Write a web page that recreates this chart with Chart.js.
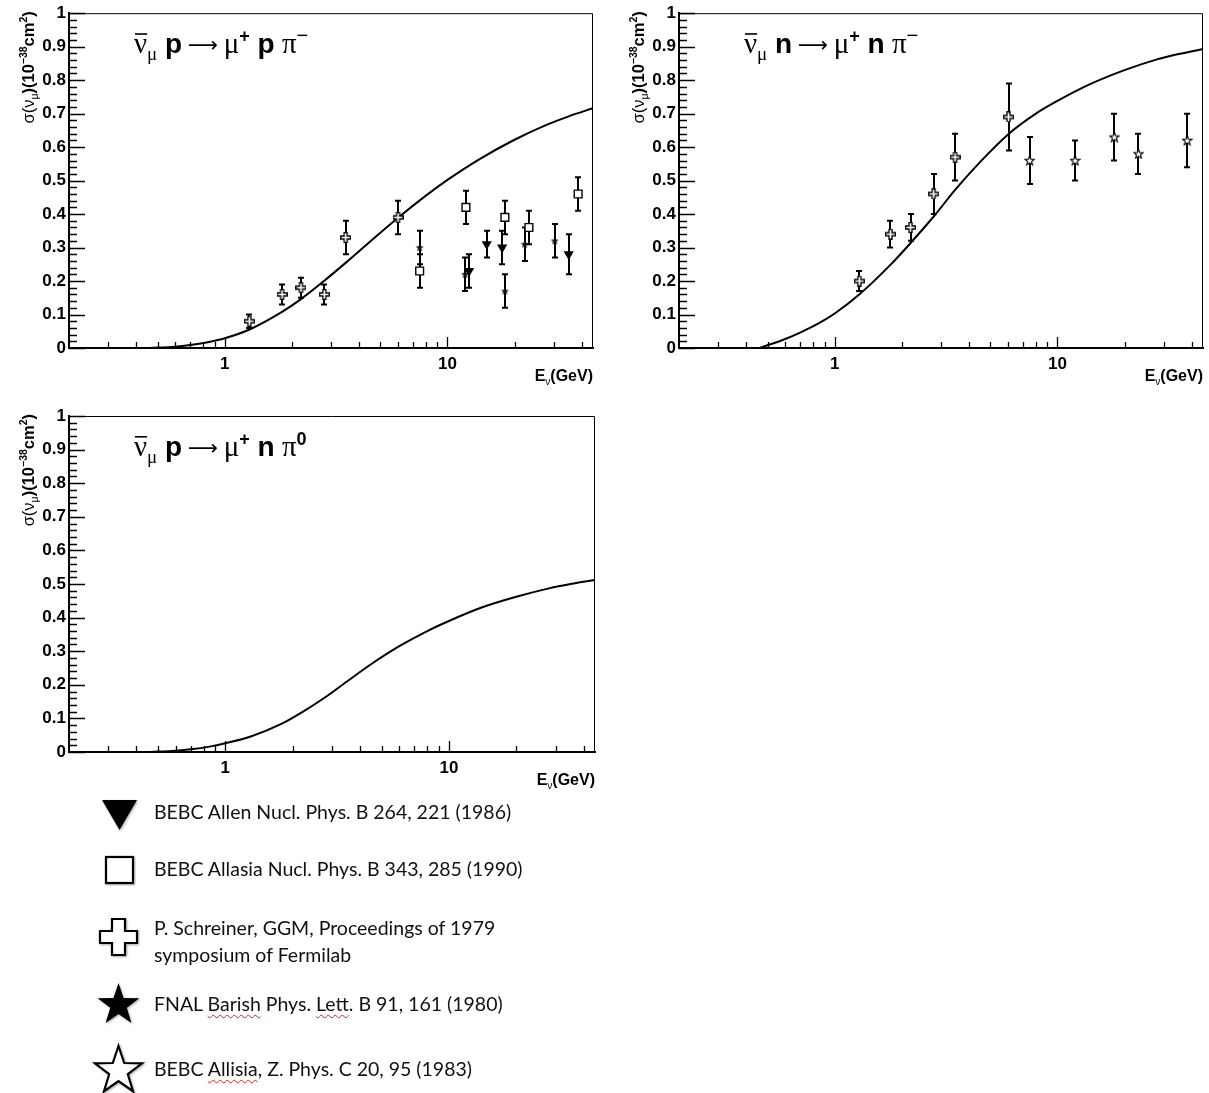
<!DOCTYPE html>
<html>
<head>
<meta charset="utf-8">
<script src="https://cdn.jsdelivr.net/npm/chart.js@4.4.1/dist/chart.umd.min.js"></script>
<style>
body{margin:0;background:#fff;width:1209px;height:1093px;position:relative;overflow:hidden;}
.panel{position:absolute;}
.leg{position:absolute;left:154px;font-family:Lato,"Open Sans",sans-serif;font-size:19.5px;color:#111;line-height:27px;white-space:nowrap;}
.leg u{text-decoration:underline wavy #d22;text-decoration-thickness:1px;text-underline-offset:3px;}
.sym{position:absolute;overflow:visible;}
</style>
</head>
<body>
<div class="panel" style="left:0;top:0;"><canvas id="chartPPi" width="605" height="392"></canvas></div>
<div class="panel" style="left:610px;top:0;"><canvas id="chartNPi" width="599" height="392"></canvas></div>
<div class="panel" style="left:0;top:400px;"><canvas id="chartNPi0" width="605" height="392"></canvas></div>

<svg class="sym" style="left:0;top:0" width="200" height="1093">
  <defs><filter id="sh"><feDropShadow dx="1" dy="1" stdDeviation="1" flood-opacity="0.35"/></filter></defs>
  <polygon points="102,800 137,800 119.5,830" fill="#000" filter="url(#sh)"/>
  <rect x="106" y="857" width="27" height="26" fill="#fff" stroke="#000" stroke-width="2.2" filter="url(#sh)"/>
  <polygon points="112,919 125,919 125,931 137,931 137,943 125,943 125,955 112,955 112,943 100,943 100,931 112,931" fill="#fff" stroke="#000" stroke-width="2.2" filter="url(#sh)"/>
  <polygon points="118.5,983 123.6,997.9 139.4,998.2 126.8,1007.8 131.4,1022.9 118.5,1013.9 105.6,1022.9 110.2,1007.8 97.6,998.2 113.4,997.9" fill="#000" filter="url(#sh)"/>
  <polygon points="118.5,1046 124.2,1063 142,1063.3 127.8,1074.2 133,1091.2 118.5,1081 104,1091.2 109.2,1074.2 95,1063.3 112.8,1063" fill="#fff" stroke="#000" stroke-width="2.2" filter="url(#sh)"/>
</svg>
<div class="leg" style="top:798px">BEBC Allen Nucl. Phys. B 264, 221 (1986)</div>
<div class="leg" style="top:855px">BEBC Allasia Nucl. Phys. B 343, 285 (1990)</div>
<div class="leg" style="top:914px">P. Schreiner, GGM, Proceedings of 1979<br>symposium of Fermilab</div>
<div class="leg" style="top:990px">FNAL <u>Barish</u> Phys. <u>Lett</u>. B 91, 161 (1980)</div>
<div class="leg" style="top:1055px">BEBC <u>Allisia</u>, Z. Phys. C 20, 95 (1983)</div>

<script>
// axis ticks
var xTickVals = [0.3,0.4,0.5,0.6,0.7,0.8,0.9,1,2,3,4,5,6,7,8,9,10,20,30,40];
var xTickLabels = {1:'1', 10:'10'};
var yTickVals = [0,0.1,0.2,0.3,0.4,0.5,0.6,0.7,0.8,0.9,1];
var yTickLabels = ['0','0.1','0.2','0.3','0.4','0.5','0.6','0.7','0.8','0.9','1'];

// theory curves (E in GeV, sigma in 1e-38 cm2)
var curveE      = [0.46, 0.6,   0.7,   0.85,  1,     1.3,   1.8,   2.2,   2.8,   3.5,   4.5,   6,     8,     10,    14,    20,    28,    35,    45];
var curvePPiM   = [0,    0.004, 0.009, 0.018, 0.029, 0.056, 0.107, 0.146, 0.201, 0.255, 0.318, 0.389, 0.455, 0.502, 0.565, 0.622, 0.667, 0.692, 0.716];
var curveNPiM   = [0,    0.027, 0.046, 0.074, 0.103, 0.162, 0.252, 0.315, 0.395, 0.475, 0.556, 0.638, 0.700, 0.738, 0.788, 0.830, 0.862, 0.878, 0.893];
var curveNPi0   = [0,    0.004, 0.008, 0.016, 0.026, 0.046, 0.085, 0.118, 0.163, 0.210, 0.262, 0.315, 0.360, 0.390, 0.430, 0.462, 0.487, 0.500, 0.512];

// p pi- data
var allenE   = [12.5, 15.0, 17.6, 35.0];
var allenSig = [0.23, 0.31, 0.30, 0.28];
var allenErr = [0.05, 0.04, 0.05, 0.06];

var allasiaE   = [7.5, 12.1, 18.1, 23.2, 38.6];
var allasiaSig = [0.23, 0.42, 0.39, 0.36, 0.46];
var allasiaErr = [0.05, 0.05, 0.05, 0.05, 0.05];

var schreinerPE   = [1.29, 1.81, 2.2, 2.8, 3.49, 6.0];
var schreinerPSig = [0.08, 0.16, 0.18, 0.16, 0.33, 0.39];
var schreinerPErr = [0.02, 0.03, 0.03, 0.03, 0.05, 0.05];

var barishE   = [7.5, 12.0, 18.1, 22.2, 30.3];
var barishSig = [0.30, 0.22, 0.17, 0.31, 0.32];
var barishErr = [0.05, 0.05, 0.05, 0.05, 0.05];

// n pi- data
var schreinerNE   = [1.29, 1.78, 2.19, 2.78, 3.47, 6.03];
var schreinerNSig = [0.20, 0.34, 0.36, 0.46, 0.57, 0.69];
var schreinerNErr = [0.03, 0.04, 0.04, 0.06, 0.07, 0.10];

var allisiaE   = [7.5, 12.0, 18.0, 23.1, 38.2];
var allisiaSig = [0.56, 0.56, 0.63, 0.58, 0.62];
var allisiaErr = [0.07, 0.06, 0.07, 0.06, 0.08];

var SERIF = '"Liberation Serif"';
var SANS = '"Liberation Sans"';

function titleSegs(nucl1, nucl2, charge){
	return [
		{t:'ν', f:'29px '+SERIF, bar:20},
		{t:'μ', f:'19px '+SERIF, dy:7},
		{t:' '+nucl1+'\u2009', f:'bold 28px '+SANS},
		{t:'⟶', f:'21px "DejaVu Sans"', dy:-1},
		{t:'\u2009μ', f:'29px '+SERIF},
		{t:'+', f:'bold 18px '+SANS, dy:-11},
		{t:' '+nucl2, f:'bold 28px '+SANS},
		{t:' π', f:'29px '+SERIF},
		{t:charge, f:(charge=='0'?'bold 18px ':'20px ')+SANS, dy:-11}
	];
}

var yTitleSegs = [
	{t:'σ(ν', f:'16.5px '+SANS},
	{t:'μ', f:'10.5px '+SANS, dy:4},
	{t:')(10', f:'bold 16.5px '+SANS},
	{t:'−38', f:'bold 10.5px '+SANS, dy:-7},
	{t:'cm', f:'bold 16.5px '+SANS},
	{t:'2', f:'bold 10.5px '+SANS, dy:-7},
	{t:')', f:'bold 16.5px '+SANS}
];
var xTitleSegs = [
	{t:'E', f:'bold 16px '+SANS},
	{t:'ν', f:'10px '+SANS, dy:4},
	{t:'(GeV)', f:'bold 16px '+SANS}
];

function measureRich(ctx, segs){
	var w = 0;
	segs.forEach(function(s){ ctx.font = s.f; w += ctx.measureText(s.t).width; });
	return w;
}

function drawRich(ctx, segs, x, y){
	var cx = x;
	segs.forEach(function(s){
		ctx.font = s.f;
		var w = ctx.measureText(s.t).width;
		ctx.fillText(s.t, cx, y + (s.dy || 0));
		if(s.bar){ ctx.fillRect(cx + 1, y - s.bar, w - 1, 1.6); }
		cx += w;
	});
}

function markerCanvas(size, draw){
	var c = document.createElement('canvas');
	c.width = size; c.height = size;
	draw(c.getContext('2d'), size);
	return c;
}

function starPath(g, cx, cy, ro, ri){
	g.beginPath();
	for(var i = 0; i < 10; i++){
		var r = (i % 2) ? ri : ro;
		var a = -Math.PI/2 + i*Math.PI/5;
		g.lineTo(cx + r*Math.cos(a), cy + r*Math.sin(a));
	}
	g.closePath();
}

var openCross = markerCanvas(11, function(g){
	g.beginPath();
	var p = [[4,0.7],[7,0.7],[7,4],[10.3,4],[10.3,7],[7,7],[7,10.3],[4,10.3],[4,7],[0.7,7],[0.7,4],[4,4]];
	p.forEach(function(q){ g.lineTo(q[0], q[1]); });
	g.closePath();
	g.fillStyle = '#fff'; g.fill();
	g.lineWidth = 1.3; g.strokeStyle = '#000'; g.stroke();
});
var filledStar = markerCanvas(9, function(g){
	starPath(g, 4.5, 4.8, 4.3, 1.8);
	g.fillStyle = '#111'; g.fill();
});
var openStar = markerCanvas(11, function(g){
	starPath(g, 5.5, 5.8, 5, 2.1);
	g.fillStyle = '#fff'; g.fill();
	g.lineWidth = 1.1; g.strokeStyle = '#000'; g.stroke();
});

function points(xs, ys){
	return xs.map(function(x, i){ return {x: x, y: ys[i]}; });
}

function pointSet(xs, ys, errs, style, extra){
	var ds = {
		data: points(xs, ys),
		errs: errs,
		showLine: false,
		pointStyle: style,
		pointRadius: 4.5,
		pointBorderColor: '#000',
		pointBackgroundColor: '#fff',
		pointBorderWidth: 1.4
	};
	for(var k in extra){ ds[k] = extra[k]; }
	return ds;
}

function curveSet(ys){
	return {
		data: points(curveE, ys),
		showLine: true,
		pointRadius: 0,
		borderColor: '#000',
		borderWidth: 2,
		cubicInterpolationMode: 'monotone',
		order: 10
	};
}

var rootStyle = {
	id: 'rootStyle',
	beforeDatasetsDraw: function(chart){
		var ctx = chart.ctx, xs = chart.scales.x, ys = chart.scales.y;
		ctx.save();
		ctx.strokeStyle = '#000';
		ctx.lineWidth = 2;
		chart.data.datasets.forEach(function(ds){
			if(!ds.errs){ return; }
			ds.data.forEach(function(p, i){
				var px = Math.round(xs.getPixelForValue(p.x));
				var top = ys.getPixelForValue(p.y + ds.errs[i]);
				var bot = ys.getPixelForValue(p.y - ds.errs[i]);
				ctx.beginPath();
				ctx.moveTo(px, top); ctx.lineTo(px, bot);
				ctx.moveTo(px - 3, top); ctx.lineTo(px + 3, top);
				ctx.moveTo(px - 3, bot); ctx.lineTo(px + 3, bot);
				ctx.stroke();
			});
		});
		ctx.restore();
	},
	afterDraw: function(chart){
		var ctx = chart.ctx, a = chart.chartArea, xs = chart.scales.x, ys = chart.scales.y;
		ctx.save();
		// frame top/right
		ctx.strokeStyle = '#000';
		ctx.lineWidth = 1;
		ctx.beginPath();
		ctx.moveTo(a.left, a.top + 0.5); ctx.lineTo(a.right - 0.5, a.top + 0.5); ctx.lineTo(a.right - 0.5, a.bottom);
		ctx.stroke();
		// inner ticks
		ctx.lineWidth = 1.3;
		ctx.beginPath();
		for(var i = 0; i <= 50; i++){
			var py = Math.round(ys.getPixelForValue(i/50)) + 0.5;
			var len = (i % 5 == 0) ? 16 : 8;
			ctx.moveTo(a.left, py); ctx.lineTo(a.left + len, py);
		}
		xTickVals.forEach(function(v){
			var px = Math.round(xs.getPixelForValue(v)) + 0.5;
			var len = xTickLabels[v] ? 11 : 6;
			ctx.moveTo(px, a.bottom); ctx.lineTo(px, a.bottom - len);
		});
		ctx.stroke();
		// titles
		ctx.fillStyle = '#000';
		ctx.textBaseline = 'alphabetic';
		drawRich(ctx, chart.options.titleSegs, a.left + 65, a.top + 40);
		var xw = measureRich(ctx, xTitleSegs);
		drawRich(ctx, xTitleSegs, a.right - xw, a.bottom + 33);
		var yw = measureRich(ctx, yTitleSegs);
		ctx.translate(a.left - 35, a.top - 2);
		ctx.rotate(-Math.PI/2);
		drawRich(ctx, yTitleSegs, -yw, 0);
		ctx.restore();
	}
};

function makePanel(id, datasets, segs, padTop, padRight, plotBottom){
	var canvas = document.getElementById(id);
	return new Chart(canvas, {
		type: 'scatter',
		data: {datasets: datasets},
		plugins: [rootStyle],
		options: {
			responsive: false,
			animation: false,
			titleSegs: segs,
			layout: {padding: {top: padTop, right: padRight, left: 0, bottom: 0}},
			plugins: {legend: {display: false}, tooltip: {enabled: false}},
			scales: {
				x: {
					type: 'logarithmic',
					min: 0.2, max: 45,
					afterBuildTicks: function(axis){
						axis.ticks = xTickVals.map(function(v){ return {value: v}; });
					},
					afterFit: function(axis){ axis.height = canvas.height - plotBottom; },
					ticks: {
						autoSkip: false, maxRotation: 0, padding: 6, color: '#000',
						font: {family: SANS, weight: 'bold', size: 17},
						callback: function(v){ return xTickLabels[v] || ''; }
					},
					grid: {display: false, drawTicks: false},
					border: {display: true, color: '#000', width: 2}
				},
				y: {
					min: 0, max: 1,
					afterBuildTicks: function(axis){
						axis.ticks = yTickVals.map(function(v){ return {value: v}; });
					},
					afterFit: function(axis){ axis.width = 69; },
					ticks: {
						padding: 3, color: '#000',
						font: {family: SANS, weight: 'bold', size: 17},
						callback: function(v, i){ return yTickLabels[i]; }
					},
					grid: {display: false, drawTicks: false},
					border: {display: true, color: '#000', width: 2}
				}
			}
		}
	});
}

makePanel('chartPPi', [
	pointSet(allenE, allenSig, allenErr, 'triangle', {rotation: 180, pointRadius: 4.5, pointBackgroundColor: '#000'}),
	pointSet(allasiaE, allasiaSig, allasiaErr, 'rect', {pointRadius: 5.5}),
	pointSet(schreinerPE, schreinerPSig, schreinerPErr, openCross),
	pointSet(barishE, barishSig, barishErr, filledStar),
	curveSet(curvePPiM)
], titleSegs('p', 'p', '−'), 12, 12, 348);

makePanel('chartNPi', [
	pointSet(schreinerNE, schreinerNSig, schreinerNErr, openCross),
	pointSet(allisiaE, allisiaSig, allisiaErr, openStar),
	curveSet(curveNPiM)
], titleSegs('n', 'n', '−'), 12, 6, 348);

makePanel('chartNPi0', [
	curveSet(curveNPi0)
], titleSegs('p', 'n', '0'), 16, 10, 352);
</script>
</body>
</html>
